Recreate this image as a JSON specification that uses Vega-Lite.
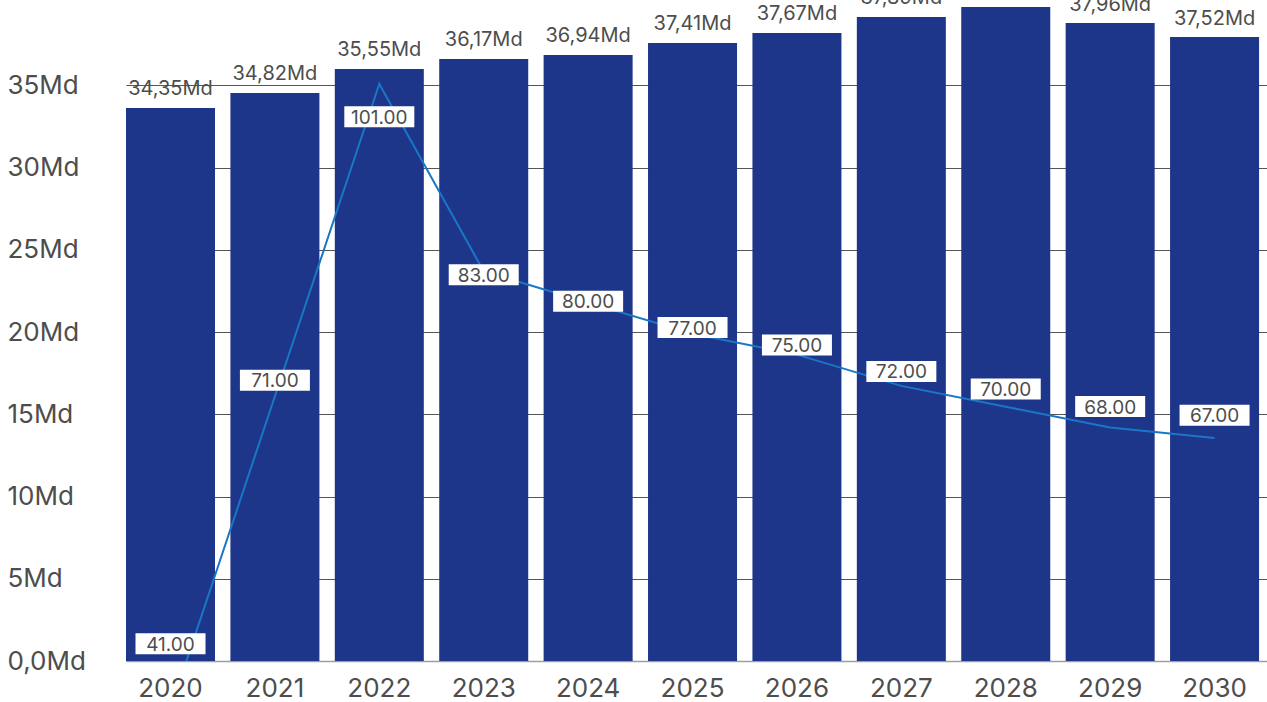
{
  "$schema": "https://vega.github.io/schema/vega-lite/v6.json",
  "width": 1141,
  "height": 658,
  "autosize": "none",
  "padding": {"left": 126, "top": 3, "right": 0, "bottom": 41},
  "background": "white",
  "config": {"view": {"stroke": null}, "font": "Inter"},
  "data": {
    "values": [
      {"year": "2020", "value": 33.62, "label": "34,35Md", "rate": 41},
      {"year": "2021", "value": 34.53, "label": "34,82Md", "rate": 71},
      {"year": "2022", "value": 35.99, "label": "35,55Md", "rate": 101},
      {"year": "2023", "value": 36.60, "label": "36,17Md", "rate": 83},
      {"year": "2024", "value": 36.84, "label": "36,94Md", "rate": 80},
      {"year": "2025", "value": 37.57, "label": "37,41Md", "rate": 77},
      {"year": "2026", "value": 38.18, "label": "37,67Md", "rate": 75},
      {"year": "2027", "value": 39.15, "label": "37,89Md", "rate": 72},
      {"year": "2028", "value": 39.76, "label": "38,05Md", "rate": 70},
      {"year": "2029", "value": 38.78, "label": "37,96Md", "rate": 68},
      {"year": "2030", "value": 37.93, "label": "37,52Md", "rate": 67}
    ]
  },
  "encoding": {
    "x": {
      "field": "year",
      "type": "ordinal",
      "scale": {"paddingInner": 0.1475, "paddingOuter": 0.038, "align": 0, "round": false},
      "axis": {
        "title": null,
        "labelAngle": 0,
        "labelFontSize": 26,
        "labelColor": "#4d4d4d",
        "ticks": false,
        "domain": true,
        "domainColor": "#9e9e9e",
        "domainWidth": 1.5,
        "labelPadding": 14.5
      }
    }
  },
  "layer": [
    {
      "mark": {"type": "bar", "color": "#1e3689"},
      "encoding": {
        "y": {
          "field": "value",
          "type": "quantitative",
          "scale": {"domain": [0, 40], "nice": false},
          "axis": {
            "title": null,
            "values": [0, 5, 10, 15, 20, 25, 30, 35],
            "labelExpr": "datum.value == 0 ? '0,0Md' : datum.value + 'Md'",
            "labelAlign": "left",
            "labelBaseline": "middle",
            "labelPadding": 119,
            "tickSize": 0,
            "ticks": false,
            "domain": false,
            "grid": true,
            "gridColor": {"condition": {"test": "datum.value === 0", "value": "#9e9e9e"}, "value": "#555555"},
            "gridWidth": 1,
            "labelFontSize": 26,
            "labelColor": "#4d4d4d"
          }
        }
      }
    },
    {
      "mark": {"type": "text", "dy": -18.5, "fontSize": 20, "color": "#4d4d4d", "baseline": "middle", "align": "center"},
      "encoding": {
        "y": {"field": "value", "type": "quantitative", "scale": {"domain": [0, 40], "nice": false}, "axis": null},
        "text": {"field": "label"}
      }
    },
    {
      "mark": {"type": "line", "color": "#1a76c6", "strokeWidth": 2, "clip": true},
      "encoding": {
        "y": {"field": "rate", "type": "quantitative", "scale": {"domain": [45.57, 108.78], "nice": false, "zero": false}, "axis": null}
      }
    },
    {
      "mark": {"type": "tick", "color": "white", "opacity": 1, "thickness": 21, "size": 70},
      "encoding": {
        "y": {"field": "rate", "type": "quantitative", "scale": {"domain": [39.04, 113.94], "nice": false, "zero": false}, "axis": null}
      }
    },
    {
      "mark": {"type": "text", "fontSize": 19, "color": "#4d4d4d", "baseline": "middle", "align": "center", "dy": 1},
      "encoding": {
        "y": {"field": "rate", "type": "quantitative", "scale": {"domain": [39.04, 113.94], "nice": false, "zero": false}, "axis": null},
        "text": {"field": "rate", "type": "quantitative", "format": ".2f"}
      }
    }
  ],
  "resolve": {"scale": {"y": "independent"}}
}
